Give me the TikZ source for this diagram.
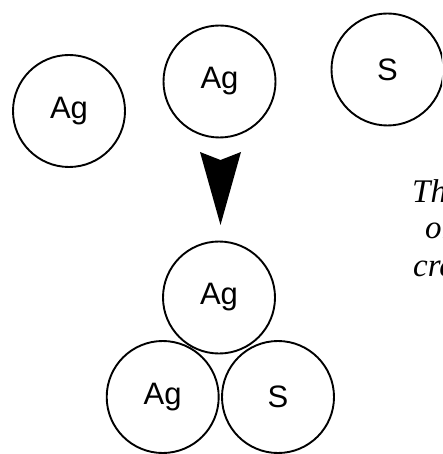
\documentclass[tikz,border=0pt]{standalone}
\usepackage{fontspec}
\setmainfont{Liberation Sans}
\newfontfamily\captionserif{Liberation Serif}
\tikzset{
  atom/.style={circle, draw=black, line width=1.9pt, minimum size=112pt, inner sep=0pt, font=\fontsize{31}{33}\selectfont},
  note/.style={anchor=base west, inner sep=0pt, font=\captionserif\itshape\fontsize{33}{36}\selectfont}
}
\begin{document}
\begin{tikzpicture}[x=1pt,y=-1pt]
\useasboundingbox (0,0) rectangle (442,454);
\clip (0,0) rectangle (442,454);
\node[atom] (ag1) at (69,111) {Ag};
\node[atom] (ag2) at (219.5,81.5) {Ag};
\node[atom] (s1) at (387.5,69.5) {S};
\node[atom] (ag3) at (219,297.5) {Ag};
\node[atom] (ag4) at (162.7,397) {Ag};
\node[atom] (s2) at (278,397) {S};
\coordinate (al) at (200,152);
\coordinate (an) at (220.5,160);
\coordinate (ar) at (241,152);
\coordinate (at) at (220.5,225);
\fill[black] (al) -- (an) -- (ar) -- (at) -- cycle;
\node[note] (t1) at (412,202) {Th};
\node[note] (t2) at (425,238) {or};
\node[note] (t3) at (413,276) {cre};
\end{tikzpicture}
\end{document}
